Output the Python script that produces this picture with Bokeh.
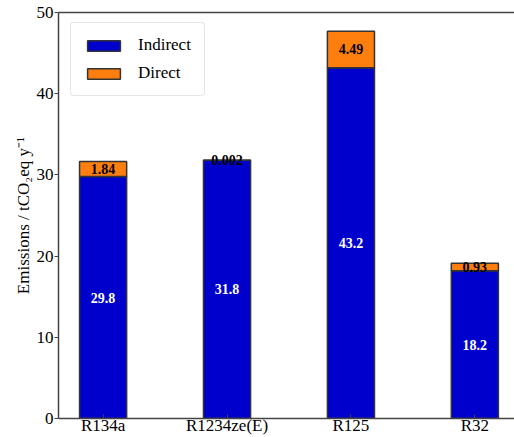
from bokeh.plotting import figure
from bokeh.models import Range1d, FixedTicker, LinearAxis, ColumnDataSource, Legend, LegendItem
from bokeh.core.properties import value
from bokeh.embed import file_html
from bokeh.resources import INLINE

refrigerants = ["R134a", "R1234ze(E)", "R125", "R32"]
indirect = [29.8, 31.8, 43.2, 18.2]
direct = [1.84, 0.002, 4.49, 0.93]
direct_labels = ["1.84", "0.002", "4.49", "0.93"]
indirect_labels = ["29.8", "31.8", "43.2", "18.2"]
y_ticks = [0, 10, 20, 30, 40, 50]

BLUE = "#0000CD"
ORANGE = "#FF7F0E"
EDGE = "#333333"
AXIS = "#444444"
SERIF = "Liberation Serif"

xs = list(range(len(refrigerants)))
tops = [a + b for a, b in zip(indirect, direct)]
src = ColumnDataSource(dict(
    x=xs,
    ind=indirect,
    tot=tops,
    ind_mid=[v / 2 for v in indirect],
    dir_mid=[a + b / 2 for a, b in zip(indirect, direct)],
    ind_lab=indirect_labels,
    dir_lab=direct_labels,
))

p = figure(width=514, height=437, output_backend="svg", toolbar_location=None,
           x_range=Range1d(-0.36, 3.32), y_range=Range1d(0, 50),
           min_border_left=58, min_border_right=0, min_border_top=12, min_border_bottom=19)
p.grid.visible = False
p.outline_line_color = None
p.background_fill_color = "white"
p.border_fill_color = "white"

bw = 0.38
r_ind = p.vbar(x="x", bottom=0, top="ind", width=bw, source=src,
               fill_color=BLUE, line_color=EDGE, line_width=1.5)
r_dir = p.vbar(x="x", bottom="ind", top="tot", width=bw, source=src,
               fill_color=ORANGE, line_color=EDGE, line_width=1.5)

p.text(x="x", y="ind_mid", text="ind_lab", source=src, text_color="white",
       text_font=value(SERIF), text_font_style="bold", text_font_size="14px",
       text_align="center", text_baseline="middle")
p.text(x="x", y="dir_mid", text="dir_lab", source=src, text_color="black",
       text_font=value(SERIF), text_font_style="bold", text_font_size="14px",
       text_align="center", text_baseline="middle")

# x axis: category ticks pointing inward
xa = p.xaxis[0]
xa.ticker = FixedTicker(ticks=xs)
xa.major_label_overrides = {i: n for i, n in enumerate(refrigerants)}
xa.minor_tick_line_color = None
xa.major_tick_in = 4
xa.major_tick_out = 0
xa.major_label_standoff = -3
xa.major_label_text_font = SERIF
xa.major_label_text_font_size = "17px"
xa.major_label_text_color = "black"
xa.axis_line_color = AXIS
xa.axis_line_width = 1.5
xa.major_tick_line_color = AXIS

ya = p.yaxis[0]
ya.ticker = FixedTicker(ticks=y_ticks)
ya.minor_tick_line_color = None
ya.major_tick_in = 0
ya.major_tick_out = 4
ya.major_label_standoff = 1
ya.major_label_text_font = SERIF
ya.major_label_text_font_size = "17px"
ya.major_label_text_color = "black"
ya.axis_line_color = AXIS
ya.axis_line_width = 1.5
ya.major_tick_line_color = AXIS
ya.axis_label = "Emissions / tCO\u2082eq y\u207b\u00b9"
ya.axis_label_text_font = SERIF
ya.axis_label_text_font_size = "17px"
ya.axis_label_text_font_style = "normal"
ya.axis_label_text_color = "black"
ya.axis_label_standoff = 1

# top spine
top = LinearAxis(ticker=FixedTicker(ticks=[]), major_label_text_font_size="0px",
                 major_tick_line_color=None, minor_tick_line_color=None,
                 axis_line_color=AXIS, axis_line_width=1.5,
                 major_label_standoff=0, major_tick_out=0, major_tick_in=0)
p.add_layout(top, "above")

legend = Legend(items=[LegendItem(label="Indirect", renderers=[r_ind]),
                       LegendItem(label="Direct", renderers=[r_dir])],
                location="top_left")
legend.label_text_font = SERIF
legend.label_text_font_size = "17px"
legend.label_text_color = "black"
legend.label_width = 54
legend.glyph_width = 41
legend.glyph_height = 13
legend.label_standoff = 14
legend.spacing = 8
legend.padding = 12
legend.margin = 0
legend.location = (12, 322)
legend.border_line_color = "#cccccc"
legend.border_line_width = 1
legend.background_fill_alpha = 1.0
if "border_radius" in Legend.properties():
    legend.border_radius = 4
p.add_layout(legend)

open("out.html", "w").write(file_html(p, INLINE))
